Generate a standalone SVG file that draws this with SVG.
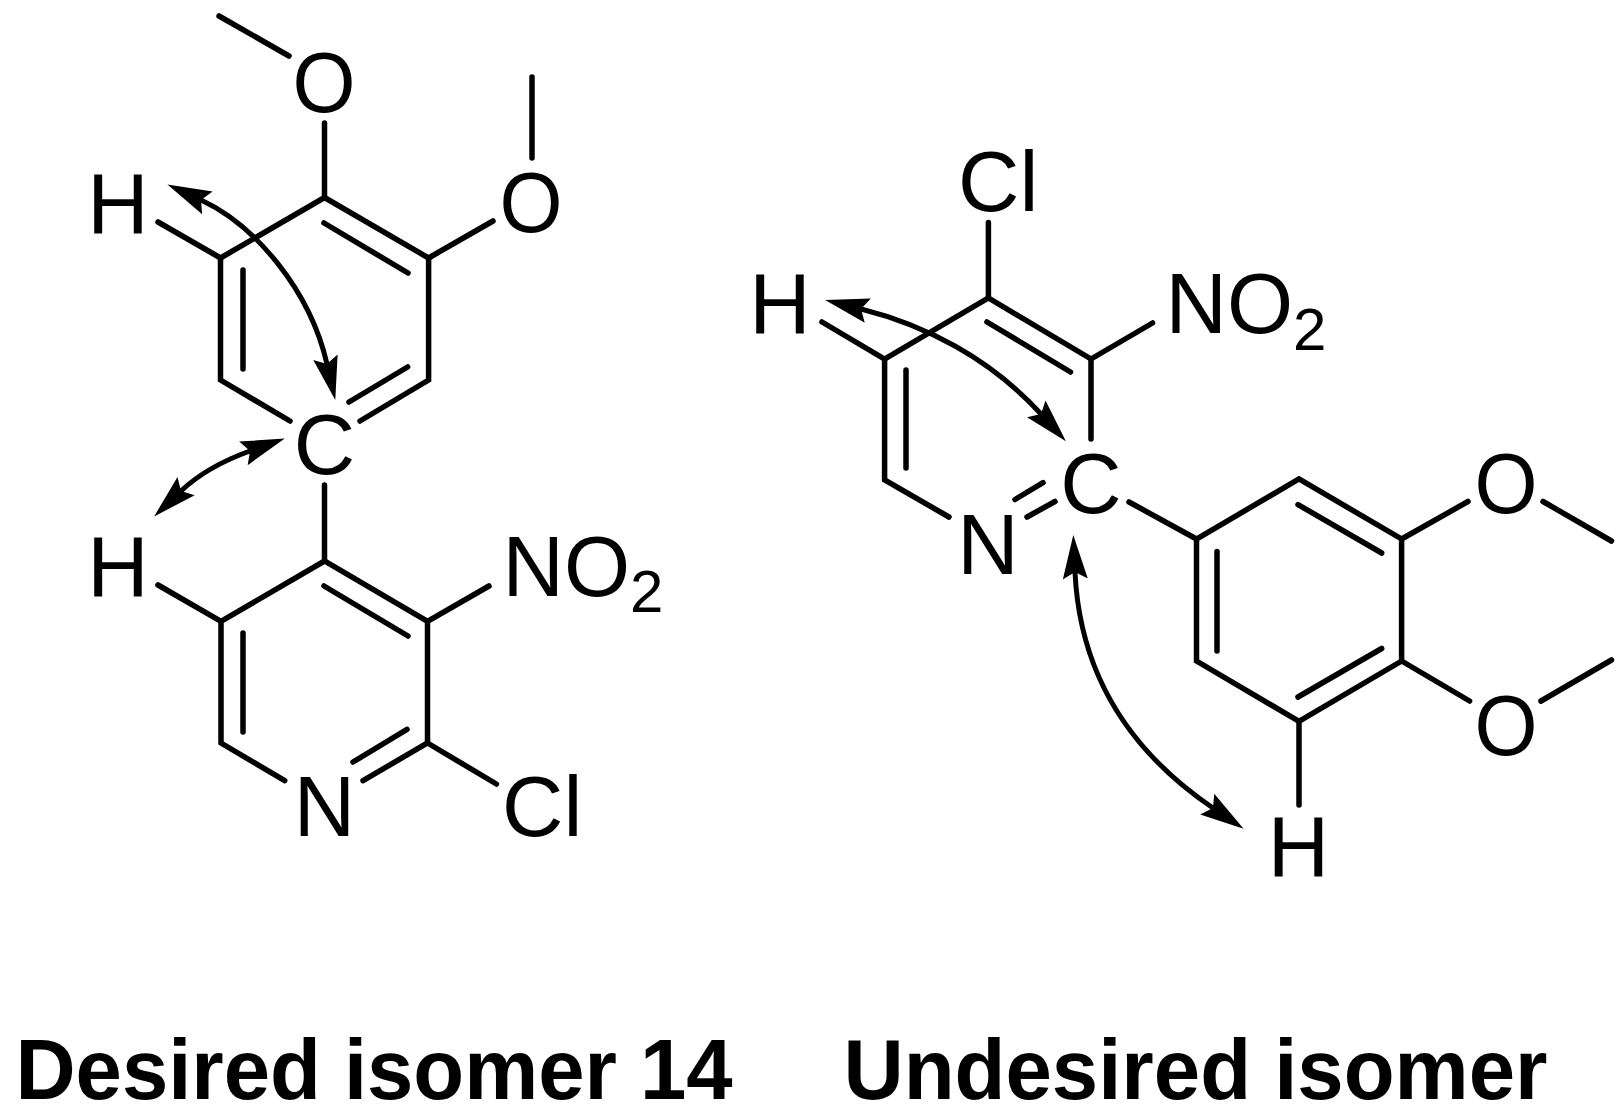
<svg xmlns="http://www.w3.org/2000/svg" width="1619" height="1118" viewBox="0 0 1619 1118">
<style>
text{font-family:"Liberation Sans",Arial,sans-serif;font-size:85px;fill:#000}
.m{text-anchor:middle}
.s{font-size:60px}
.t{font-weight:bold;font-size:85px}
.b{fill:none;stroke:#000;stroke-width:5.500;stroke-linecap:round;stroke-linejoin:miter}
.a{fill:none;stroke:#000;stroke-width:5;marker-start:url(#h);marker-end:url(#h)}
</style>
<defs>
<marker id="h" markerUnits="userSpaceOnUse" markerWidth="46" markerHeight="28" viewBox="0 -14 46 28" refX="7" refY="0" orient="auto-start-reverse">
<path d="M44,0 L0,-12.500 L7,0 L0,12.500 Z" fill="#000"/>
</marker>
</defs>
<rect width="1619" height="1118" fill="#fff"/>
<g id="connectors">
<path class="b" d="M219,16 L289,56"/>
<path class="b" d="M324.500,123 V197.500"/>
<path class="b" d="M158,222 L220.500,258 L324.500,197.500 L428.600,258 V380 L360,421"/>
<path class="b" d="M290,421 L220.500,380 V258"/>
<path class="b" d="M324,223 L408,273"/>
<path class="b" d="M243,270 V369"/>
<path class="b" d="M349,402 L407.600,367"/>
<path class="b" d="M428.600,258 L493,221"/>
<path class="b" d="M532,77 V158"/>
<path class="b" d="M324.500,485 V561"/>
<path class="b" d="M158,585 L221,621.400 L324.500,561 L427.500,621.400 V743 L363,780.600"/>
<path class="b" d="M284.700,780.600 L221,743 V621.400"/>
<path class="b" d="M427.500,621.400 L489,586"/>
<path class="b" d="M427.500,743 L496.400,784"/>
<path class="b" d="M324,586 L408,636"/>
<path class="b" d="M243,633 V732"/>
<path class="b" d="M353,762 L407,729.400"/>
<path class="b" d="M988.400,222.400 V298"/>
<path class="b" d="M822,322 L884.600,359 L988.400,298 L1091,359 V439"/>
<path class="b" d="M949,517 L884.600,480 V359"/>
<path class="b" d="M1091,359 L1152.500,323"/>
<path class="b" d="M987,322 L1070.500,372"/>
<path class="b" d="M906,370 V468"/>
<path class="b" d="M1015,499.500 L1043,482.600"/>
<path class="b" d="M1027,517 L1055,501.500"/>
<path class="b" d="M1129,502 L1196.500,539 L1299,479 L1401.600,539 V661 L1299,721.400 L1196.500,661 V539"/>
<path class="b" d="M1298,504.600 L1381.700,553"/>
<path class="b" d="M1217,551.500 V651"/>
<path class="b" d="M1298,697 L1381.700,648.500"/>
<path class="b" d="M1401.600,539 L1468,501.500"/>
<path class="b" d="M1543,501.500 L1611.500,541"/>
<path class="b" d="M1401.600,661 L1469.600,701"/>
<path class="b" d="M1541,701 L1611.500,660"/>
<path class="b" d="M1299,721.400 V805"/>
<path class="a" d="M201,200 C255,225 310,290 327,364"/>
<path class="a" d="M250,451 C225,460 200,473 181,491"/>
<path class="a" d="M861,309 C925,325 990,358 1041,414"/>
<path class="a" d="M1075,572 C1080,680 1135,755 1213,808"/>
</g>
<g id="atom-O1"><text class="m" x="324" y="111.500" textLength="63" lengthAdjust="spacingAndGlyphs">O</text></g>
<g id="atom-O2"><text class="m" x="531" y="232" textLength="63" lengthAdjust="spacingAndGlyphs">O</text></g>
<g id="atom-H1"><text class="m" x="118" y="233">H</text></g>
<g id="atom-C1"><text class="m" x="324.500" y="474">C</text></g>
<g id="atom-H2"><text class="m" x="118" y="596">H</text></g>
<g id="group-NO2-left"><text x="502.500" y="596">NO<tspan class="s" dy="16">2</tspan></text></g>
<g id="atom-N1"><text class="m" x="324.500" y="836">N</text></g>
<g id="atom-Cl1"><text x="502" y="836">Cl</text></g>
<g id="atom-Cl2"><text x="958" y="211">Cl</text></g>
<g id="atom-H3"><text class="m" x="780" y="333">H</text></g>
<g id="group-NO2-right"><text x="1165.500" y="333">NO<tspan class="s" dy="17">2</tspan></text></g>
<g id="atom-C2"><text class="m" x="1091" y="513">C</text></g>
<g id="atom-N2"><text class="m" x="988" y="574">N</text></g>
<g id="atom-O3"><text class="m" x="1506" y="513" textLength="63" lengthAdjust="spacingAndGlyphs">O</text></g>
<g id="atom-O4"><text class="m" x="1506" y="755" textLength="63" lengthAdjust="spacingAndGlyphs">O</text></g>
<g id="atom-H4"><text class="m" x="1298.500" y="876">H</text></g>
<g id="label-desired"><text class="t" x="15.500" y="1099" textLength="717" lengthAdjust="spacingAndGlyphs">Desired isomer 14</text></g>
<g id="label-undesired"><text class="t" x="843.500" y="1099" textLength="704" lengthAdjust="spacingAndGlyphs">Undesired isomer</text></g>
</svg>
